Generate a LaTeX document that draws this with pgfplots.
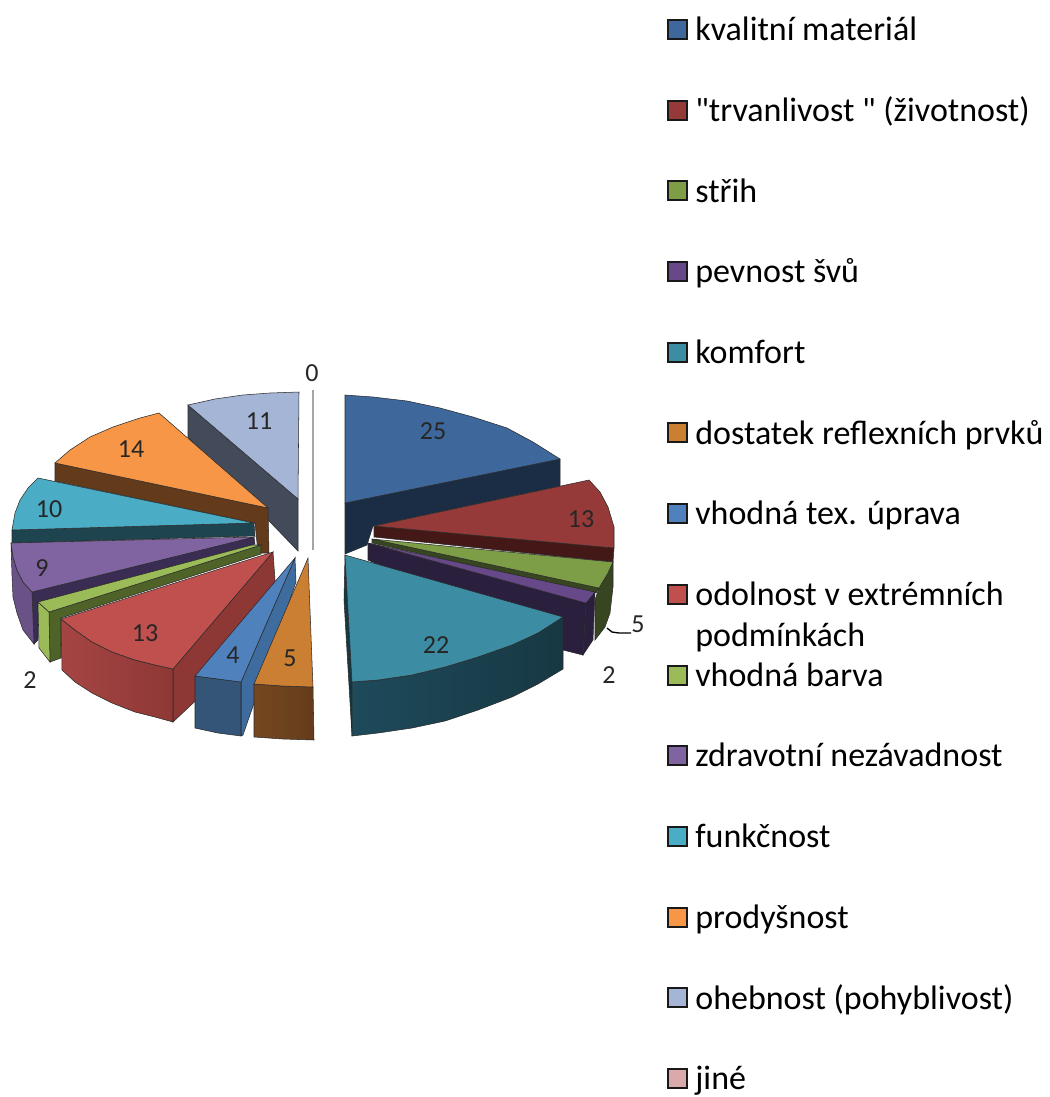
\documentclass[border=0pt]{standalone}
\usepackage{fontspec}
\setmainfont{Carlito}[Ligatures=TeXOff]
\usepackage{pgfplots}
\pgfplotsset{compat=1.18}
\definecolor{edge}{HTML}{2A2A2A}
\definecolor{cA}{HTML}{3E689B}\definecolor{cAs}{HTML}{1B2D45}
\definecolor{cB}{HTML}{953A38}\definecolor{cBs}{HTML}{451818}
\definecolor{cC}{HTML}{7E9D47}\definecolor{cCs}{HTML}{374520}
\definecolor{cD}{HTML}{67498A}\definecolor{cDs}{HTML}{2A1F3C}
\definecolor{cE}{HTML}{3C8DA3}\definecolor{cEs}{HTML}{173843}\definecolor{cEl}{HTML}{1E4A5B}
\definecolor{cF}{HTML}{CB7F32}\definecolor{cFs}{HTML}{764720}
\definecolor{cG}{HTML}{4F81BD}\definecolor{cGs}{HTML}{345478}\definecolor{cGr}{HTML}{3F6C9E}
\definecolor{cH}{HTML}{C0504D}\definecolor{cHs}{HTML}{8E3836}\definecolor{cHl}{HTML}{A54543}
\definecolor{cI}{HTML}{9BBB59}\definecolor{cIs}{HTML}{4F6228}
\definecolor{cJ}{HTML}{8064A2}\definecolor{cJs}{HTML}{3B2C54}\definecolor{cJo}{HTML}{6A5287}
\definecolor{cK}{HTML}{4BACC6}\definecolor{cKs}{HTML}{1E4450}
\definecolor{cL}{HTML}{F79646}\definecolor{cLs}{HTML}{633B1A}
\definecolor{cM}{HTML}{A5B5D6}\definecolor{cMs}{HTML}{434B5B}
\definecolor{cN}{HTML}{D9AAA9}
\pgfplotsset{
  face/.style={forget plot,draw=edge,line width=0.4pt,mark=none},
  swatch/.style={legend image code/.code={
    \draw[draw=black!90,line width=1.5pt,fill=#1] (0pt,-7pt) rectangle (14.3pt,7.3pt);
    \path[draw=none] (0pt,0pt) -- (20.3pt,0pt);}},
}
\begin{document}
\begin{tikzpicture}
\useasboundingbox (0,0) rectangle (787.5pt,822.75pt);
\begin{axis}[
  scale only axis,width=787.5pt,height=822.75pt,
  xmin=0,xmax=1050,ymin=0,ymax=1097,y dir=reverse,
  axis line style={draw=none},ticks=none,clip=false,
  legend cell align=left,
  legend style={at={(axis cs:667,15)},anchor=north west,draw=none,fill=none,
    font=\fontsize{25.5}{30.75}\selectfont,row sep=39.03pt,inner sep=0pt,
    nodes={text height=19pt,text depth=2.5pt,inner sep=0pt,outer sep=0pt}},
]
% ohebnost 11
\addplot[face,fill=cMs] coordinates {(188,405)(298,499)(298,551)(188,437)} --cycle;
\addplot[face,fill=cM] coordinates {(188,405)(215,399)(243,395)(270,393)(299,392)(298,499)} --cycle;
% prodysnost 14
\addplot[face,fill=cLs] coordinates {(55,463)(268,508)(269,553)(258,553)(255,523)(55,481)} --cycle;
\addplot[face,fill=cL] coordinates {(55,463)(70,450)(90,437)(113,427)(140,418)(159,413)(268,508)} --cycle;
% funkcnost 10
\addplot[face,fill=cKs] coordinates {(12,530)(254,523)(255,536)(12,543)} --cycle;
\addplot[face,fill=cK] coordinates {(38,478)(28,488)(20,500)(15,513)(12,530)(254,523)} --cycle;
% zdravotni nezavadnost 9
\addplot[face,fill=cJs] coordinates {(32,592)(254,537)(255,544)(38,602)(38,640)(34,644)} --cycle;
\addplot[face,fill=cJo] coordinates {(11,543)(13,557)(17,570)(23,582)(32,592)(34,644)(23,630)(17,613)(13,597)(12,575)} --cycle;
\addplot[face,fill=cJ] coordinates {(11,543)(254,537)(32,592)(23,582)(17,570)(13,557)} --cycle;
% vhodna barva 2
\addplot[face,fill=cIs] coordinates {(49,612)(261,545)(261,554)(61,618)(61,658)(50,662)} --cycle;
\addplot[face,fill=cI] coordinates {(38,602)(49,612)(50,662)(39,648)} --cycle;
\addplot[face,fill=cI] coordinates {(38,602)(252,545)(261,545)(49,612)} --cycle;
% odolnost 13
\addplot[face,fill=cHs] coordinates {(173,669)(273,552)(275,580)(275,626)(173,722)} --cycle;
\addplot[face,left color=cHl,right color=cHs] coordinates {(61,619)(75,630)(92,642)(112,652)(135,660)(155,665)(173,669)(173,722)(155,717)(135,712)(112,703)(92,693)(75,682)(62,670)} --cycle;
\addplot[face,fill=cH] coordinates {(61,619)(273,552)(173,669)(155,665)(135,660)(112,652)(92,642)(75,630)} --cycle;
% vhodna tex. uprava 4
\addplot[face,fill=cGr] coordinates {(241,682)(295,558)(296,582)(243,735)(241,736)} --cycle;
\addplot[face,fill=cGs] coordinates {(195,676)(218,679)(241,682)(241,736)(218,733)(195,728)} --cycle;
\addplot[face,fill=cG] coordinates {(195,676)(295,558)(241,682)(218,679)} --cycle;
% dostatek reflexnich prvku 5
\addplot[face,left color=cFs,right color=cFs!85!black] coordinates {(254,684)(283,686)(313,687)(314,740)(283,739)(254,737)} --cycle;
\addplot[face,fill=cF] coordinates {(254,684)(308,558)(313,687)(283,686)} --cycle;
% jine 0
\addplot[forget plot,draw=gray!70,line width=0.8pt] coordinates {(313,390)(313,550)};
% kvalitni material 25
\addplot[face,fill=cAs] coordinates {(345,503)(560,459)(560,486)(373,526)(367,545)(345,554)} --cycle;
\addplot[face,fill=cA] coordinates {(345,395)(373,397)(407,401)(440,408)(473,417)(507,428)(533,442)(560,459)(345,503)} --cycle;
% trvanlivost 13
\addplot[face,fill=cBs] coordinates {(374,526)(614,548)(613,562)(374,537)} --cycle;
\addplot[face,fill=cB] coordinates {(374,526)(589,480)(600,492)(608,507)(614,527)(614,548)} --cycle;
% strih 5
\addplot[face,fill=cCs] coordinates {(599,588)(613,562)(613,587)(610,613)(605,627)(595,640)(595,600)} --cycle;
\addplot[face,fill=cCs] coordinates {(372,539)(599,588)(596,593)(372,543)} --cycle;
\addplot[face,fill=cC] coordinates {(372,539)(613,562)(608,573)(599,588)} --cycle;
% pevnost svu 2
\addplot[face,fill=cDs] coordinates {(368,543)(586,603)(583,655)(563,650)(368,560)} --cycle;
\addplot[face,fill=cDs] coordinates {(586,603)(595,592)(593,640)(583,655)} --cycle;
\addplot[face,fill=cD] coordinates {(368,543)(595,592)(586,603)} --cycle;
% komfort 22
\addplot[face,fill=cEs] coordinates {(345,555)(352,682)(352,736)(344,600)} --cycle;
\addplot[face,left color=cEl,right color=cEs] coordinates {(352,682)(378,680)(412,675)(445,667)(478,657)(512,645)(538,633)(563,617)(563,669)(538,684)(512,697)(478,710)(445,721)(412,728)(378,733)(352,736)} --cycle;
\addplot[face,fill=cE] coordinates {(345,555)(563,617)(538,633)(512,645)(478,657)(445,667)(412,675)(378,680)(352,682)} --cycle;
% vodici cara k popisku 5
\addplot[forget plot,draw=black,line width=1pt] coordinates {(607,628)(612,632)(619,633)(631,633)};
% popisky hodnot
\addplot[forget plot,only marks,mark=none,point meta=explicit symbolic,
  nodes near coords,
  every node near coord/.style={anchor=center,inner sep=0pt,text=black!85,
    font=\fontsize{19.5}{23}\selectfont}]
  table[meta=label] {
  x y label
  433 431 25
  581 519 13
  638 624 5
  609 675 2
  436 645 22
  290 658 5
  233 655 4
  145 633 13
  30 680 2
  42 568 9
  49 509 10
  131 449 14
  259 421 11
  312 373 0
};
% legenda
\addlegendimage{swatch=cA}\addlegendentry{kvalitní materiál}
\addlegendimage{swatch=cB}\addlegendentry{"trvanlivost " (životnost)}
\addlegendimage{swatch=cC}\addlegendentry{střih}
\addlegendimage{swatch=cD}\addlegendentry{pevnost švů}
\addlegendimage{swatch=cE}\addlegendentry{komfort}
\addlegendimage{swatch=cF}\addlegendentry{dostatek reflexních prvků}
\addlegendimage{swatch=cG}\addlegendentry{vhodná tex. úprava}
\addlegendimage{swatch=cH}\addlegendentry{\smash{\begin{tabular}[t]{@{}l@{}}odolnost v extrémních\\podmínkách\end{tabular}}}
\addlegendimage{swatch=cI}\addlegendentry{vhodná barva}
\addlegendimage{swatch=cJ}\addlegendentry{zdravotní nezávadnost}
\addlegendimage{swatch=cK}\addlegendentry{funkčnost}
\addlegendimage{swatch=cL}\addlegendentry{prodyšnost}
\addlegendimage{swatch=cM}\addlegendentry{ohebnost (pohyblivost)}
\addlegendimage{swatch=cN}\addlegendentry{jiné}
\end{axis}
\end{tikzpicture}
\end{document}
